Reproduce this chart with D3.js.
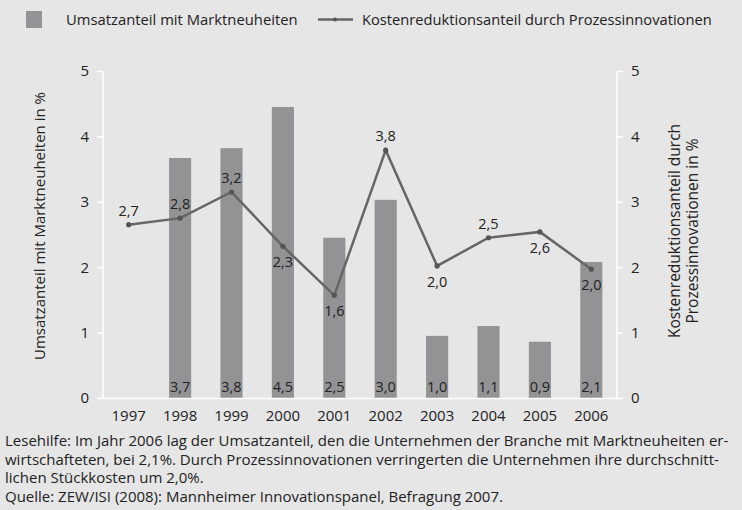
<!DOCTYPE html>
<html>
<head>
<meta charset="utf-8">
<script src="https://cdn.jsdelivr.net/npm/d3@7"></script>
<style>
  body { margin: 0; background: #e6e6e6; }
  svg { display: block; }
  text { fill: #222; }
</style>
</head>
<body>
<script>
// data
var years = ["1997", "1998", "1999", "2000", "2001", "2002", "2003", "2004", "2005", "2006"];
var umsatz = [null, 3.67, 3.82, 4.45, 2.45, 3.03, 0.95, 1.1, 0.86, 2.08];
var umsatzLabels = ["", "3,7", "3,8", "4,5", "2,5", "3,0", "1,0", "1,1", "0,9", "2,1"];
var kosten = [2.65, 2.75, 3.15, 2.32, 1.57, 3.79, 2.02, 2.45, 2.54, 1.97];
var kostenLabels = ["2,7", "2,8", "3,2", "2,3", "1,6", "3,8", "2,0", "2,5", "2,6", "2,0"];
var kostenLabelPos = ["above", "above", "above", "below", "below", "above", "below", "above", "below", "below"];
var yTicks = [0, 1, 2, 3, 4, 5];
var legendLabels = ["Umsatzanteil mit Marktneuheiten", "Kostenreduktionsanteil durch Prozessinnovationen"];
var noteLines = [
  "Lesehilfe: Im Jahr 2006 lag der Umsatzanteil, den die Unternehmen der Branche mit Marktneuheiten er-",
  "wirtschafteten, bei 2,1%. Durch Prozessinnovationen verringerten die Unternehmen ihre durchschnitt-",
  "lichen Stückkosten um 2,0%.",
  "Quelle: ZEW/ISI (2008): Mannheimer Innovationspanel, Befragung 2007."
];

var W = 742, H = 510;
var margin = {top: 71, left: 103, right: 125, bottom: 112};
var width = W - margin.left - margin.right,
    height = H - margin.top - margin.bottom;

var numFont = "'Open Sans', sans-serif";
var condFont = "'Open Sans', sans-serif";

var svg = d3.select("body").append("svg")
    .attr("width", W)
    .attr("height", H);

svg.append("rect").attr("width", W).attr("height", H).attr("fill", "#e6e6e6");

var g = svg.append("g")
    .attr("transform", "translate(" + margin.left + "," + margin.top + ")");

var x = d3.scaleBand().domain(years).range([0, width]).paddingInner(0.57).paddingOuter(0.285);
var y = d3.scaleLinear().domain([0, 5]).range([height, 0]);
var y2 = d3.scaleLinear().domain([0, 5]).range([height, 0]);

var data = years.map(function(d, i) {
  return {year: d, u: umsatz[i], ul: umsatzLabels[i], k: kosten[i], kl: kostenLabels[i], pos: kostenLabelPos[i]};
});

// bars
g.selectAll("rect.bar")
  .data(data.filter(function(d) { return d.u != null; }))
  .enter().append("rect")
    .attr("class", "bar")
    .attr("x", function(d) { return x(d.year); })
    .attr("width", x.bandwidth())
    .attr("y", function(d) { return y(d.u); })
    .attr("height", function(d) { return height - y(d.u); })
    .attr("fill", "#939396");

g.selectAll("text.barlabel")
  .data(data.filter(function(d) { return d.u != null; }))
  .enter().append("text")
    .attr("class", "barlabel")
    .attr("x", function(d) { return x(d.year) + x.bandwidth() / 2; })
    .attr("y", height - 6)
    .attr("text-anchor", "middle")
    .style("font-family", numFont)
    .style("font-size", "14.5px")
    .text(function(d) { return d.ul; });

// left + right axis
var yAxis = g.append("g")
    .call(d3.axisLeft(y).tickValues(yTicks).tickSize(6).tickPadding(8).tickFormat(d3.format("d")));
var yAxis2 = g.append("g")
    .attr("transform", "translate(" + width + ",0)")
    .call(d3.axisRight(y2).tickValues(yTicks).tickSize(6).tickPadding(8).tickFormat(d3.format("d")));
[yAxis, yAxis2].forEach(function(a) {
  a.select(".domain").attr("stroke", "#fff").attr("stroke-width", 1.5)
    .attr("d", "M0," + y(5) + "V" + y(0));
  a.selectAll(".tick line").attr("stroke", "#fff").attr("stroke-width", 1.5);
  a.selectAll(".tick text").style("font-family", numFont).style("font-size", "15px").attr("fill", "#222");
});

// x axis (baseline)
var xAxis = g.append("g")
    .attr("transform", "translate(0," + height + ")")
    .call(d3.axisBottom(x).tickSize(0).tickPadding(12));
xAxis.select(".domain").attr("stroke", "#fff").attr("stroke-width", 1.5);
xAxis.selectAll(".tick text").style("font-family", numFont).style("font-size", "15px").attr("fill", "#222");

// line
var line = d3.line()
    .x(function(d) { return x(d.year) + x.bandwidth() / 2; })
    .y(function(d) { return y2(d.k); });

g.append("path")
    .datum(data)
    .attr("fill", "none")
    .attr("stroke", "#666")
    .attr("stroke-width", 2.5)
    .attr("d", line);

g.selectAll("circle.pt")
  .data(data)
  .enter().append("circle")
    .attr("class", "pt")
    .attr("cx", function(d) { return x(d.year) + x.bandwidth() / 2; })
    .attr("cy", function(d) { return y2(d.k); })
    .attr("r", 2.6)
    .attr("fill", "#555");

g.selectAll("text.ptlabel")
  .data(data)
  .enter().append("text")
    .attr("class", "ptlabel")
    .attr("x", function(d) { return x(d.year) + x.bandwidth() / 2; })
    .attr("y", function(d) { return y2(d.k) + (d.pos === "above" ? -9 : 21); })
    .attr("text-anchor", "middle")
    .style("font-family", numFont)
    .style("font-size", "14.5px")
    .text(function(d) { return d.kl; });

// axis titles
svg.append("text")
    .attr("transform", "translate(45,226) rotate(-90)")
    .attr("text-anchor", "middle")
    .style("font-family", numFont)
    .style("font-size", "15px")
    .text("Umsatzanteil mit Marktneuheiten in %");

var t2 = svg.append("text")
    .attr("transform", "translate(680,231) rotate(-90)")
    .attr("text-anchor", "middle")
    .style("font-family", numFont)
    .style("font-size", "15.5px");
t2.append("tspan").attr("x", 0).attr("dy", 0).text("Kostenreduktionsanteil durch");
t2.append("tspan").attr("x", 0).attr("dy", 18).text("Prozessinnovationen in %");

// legend
var leg = svg.append("g");
leg.append("rect").attr("x", 26).attr("y", 11).attr("width", 16).attr("height", 17).attr("fill", "#939396");
leg.append("text").attr("x", 66).attr("y", 25)
    .style("font-family", condFont).style("font-size", "14.8px").text(legendLabels[0]);
leg.append("line").attr("x1", 318).attr("x2", 353).attr("y1", 19.5).attr("y2", 19.5)
    .attr("stroke", "#666").attr("stroke-width", 2.5);
leg.append("circle").attr("cx", 335).attr("cy", 19.5).attr("r", 2).attr("fill", "#555");
leg.append("text").attr("x", 362).attr("y", 25)
    .style("font-family", condFont).style("font-size", "14.7px").text(legendLabels[1]);

// note
svg.append("g").selectAll("text")
  .data(noteLines)
  .enter().append("text")
    .attr("x", 5)
    .attr("y", function(d, i) { return 446 + i * 18.5; })
    .style("font-family", condFont)
    .style("font-size", "15px")
    .text(function(d) { return d; });
</script>
</body>
</html>
